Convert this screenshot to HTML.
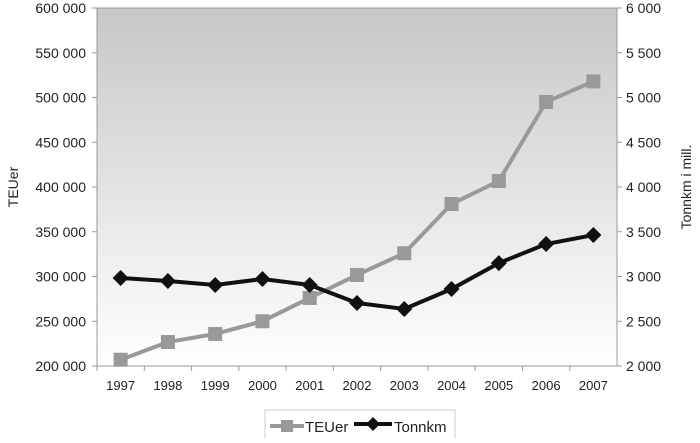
<!DOCTYPE html>
<html><head><meta charset="utf-8"><style>
body{margin:0;background:#fff;}
svg text{font-family:"Liberation Sans",sans-serif;fill:#222;}
</style></head><body>
<svg width="700" height="438" xmlns="http://www.w3.org/2000/svg">
<defs><linearGradient id="bg" x1="0" y1="0" x2="0" y2="1"><stop offset="0" stop-color="#c6c7c9"/><stop offset="1" stop-color="#ffffff"/></linearGradient></defs>
<rect x="97" y="8" width="520" height="358" fill="url(#bg)" stroke="#999"/>
<g id="axes"></g>
<g id="series"></g>
<text transform="translate(18,187) rotate(-90)" text-anchor="middle" font-size="14">TEUer</text>
<text transform="translate(691,187) rotate(-90)" text-anchor="middle" font-size="14">Tonnkm i mill.</text>
<g>
<rect x="265" y="410" width="190" height="30" fill="#fff" stroke="#ccc"/>
<line x1="270" y1="426" x2="304" y2="426" stroke="#999" stroke-width="4"/>
<rect x="281" y="420" width="12" height="12" fill="#999"/>
<text x="305" y="432" font-size="15">TEUer</text>
<line x1="354" y1="424" x2="392" y2="424" stroke="#111" stroke-width="4"/>
<polygon points="373,417 380,424 373,431 366,424" fill="#111"/>
<text x="394" y="432" font-size="15">Tonnkm</text>
</g>
</svg>
<script>
const categories=["1997","1998","1999","2000","2001","2002","2003","2004","2005","2006","2007"];
const teuValues=[207000,226800,235800,250000,276000,301700,326000,381000,406700,495000,518000];
const tonnkmValues=[2983,2950,2905,2972,2905,2704,2637,2860,3150,3363,3463];
const leftTicks=[200000,250000,300000,350000,400000,450000,500000,550000,600000];
const rightTicks=[2000,2500,3000,3500,4000,4500,5000,5500,6000];
const NS="http://www.w3.org/2000/svg";
const X0=97,X1=617,Y0=366,Y1=8;
const xs=i=>X0+(X1-X0)/categories.length*(i+0.5);
const yl=v=>Y0-(v-200000)/400000*(Y0-Y1);
const yr=v=>Y0-(v-2000)/4000*(Y0-Y1);
const fmt=v=>String(v).replace(/\B(?=(\d{3})+(?!\d))/g," ");
function mk(t,a,p){const e=document.createElementNS(NS,t);for(const k in a)e.setAttribute(k,a[k]);p.appendChild(e);return e;}
const ax=document.getElementById('axes'),se=document.getElementById('series');
leftTicks.forEach(v=>{const y=yl(v);
mk('line',{x1:92,x2:97,y1:y,y2:y,stroke:'#999'},ax);
const t=mk('text',{x:86,y:y+5,'text-anchor':'end','font-size':14},ax);t.textContent=fmt(v);

});
rightTicks.forEach(v=>{const y=yr(v);
mk('line',{x1:617,x2:622,y1:y,y2:y,stroke:'#999'},ax);
const t=mk('text',{x:626,y:y+5,'text-anchor':'start','font-size':14},ax);t.textContent=fmt(v);

});
categories.forEach((c,i)=>{
const xb=X0+(X1-X0)/categories.length*i;
mk('line',{x1:xb,x2:xb,y1:366,y2:371,stroke:'#999'},ax);
const t=mk('text',{x:xs(i),y:390,'text-anchor':'middle','font-size':13},ax);t.textContent=c;

});
const p1=mk('polyline',{points:teuValues.map((v,i)=>xs(i)+','+yl(v)).join(' '),fill:'none',stroke:'#999','stroke-width':4},se);


teuValues.forEach((v,i)=>{const r=mk('rect',{x:xs(i)-7,y:yl(v)-7,width:14,height:14,fill:'#999'},se);

});
const p2=mk('polyline',{points:tonnkmValues.map((v,i)=>xs(i)+','+yr(v)).join(' '),fill:'none',stroke:'#111','stroke-width':4},se);


tonnkmValues.forEach((v,i)=>{const x=xs(i),y=yr(v);const d=mk('polygon',{points:`${x},${y-8} ${x+8},${y} ${x},${y+8} ${x-8},${y}`,fill:'#111'},se);

});
</script>
</body></html>
